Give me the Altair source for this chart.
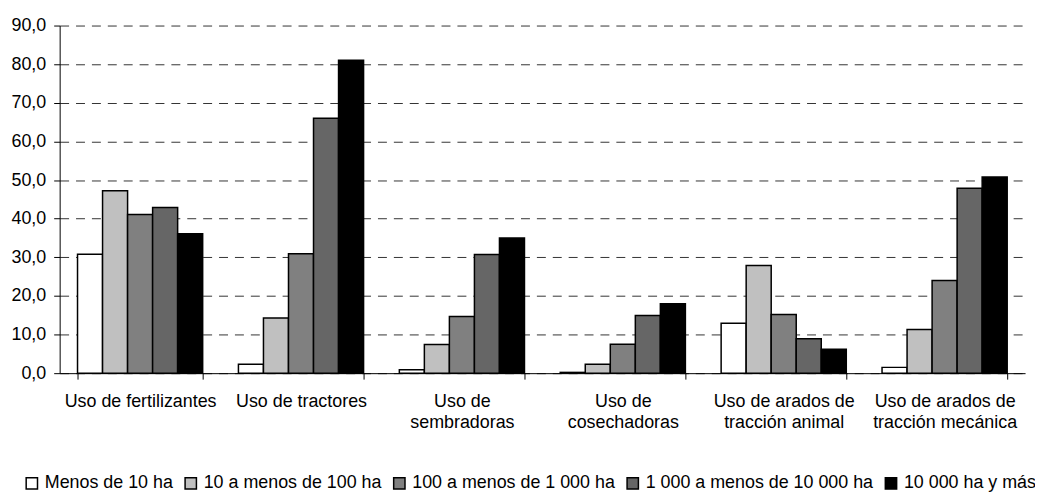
import altair as alt
import pandas as pd

categories = [
    "Uso de fertilizantes",
    "Uso de tractores",
    "Uso de\nsembradoras",
    "Uso de\ncosechadoras",
    "Uso de arados de\ntracción animal",
    "Uso de arados de\ntracción mecánica",
]
series = [
    "Menos de 10 ha",
    "10 a menos de 100 ha",
    "100 a menos de 1 000 ha",
    "1 000 a menos de 10 000 ha",
    "10 000 ha y más",
]
v_menos10 = [30.8, 2.3, 0.9, 0.2, 12.9, 1.5]
v_10_100 = [47.2, 14.3, 7.4, 2.3, 27.9, 11.3]
v_100_1000 = [41.1, 30.9, 14.7, 7.5, 15.2, 24.0]
v_1000_10000 = [42.9, 66.0, 30.7, 14.9, 8.9, 47.9]
v_10000 = [36.1, 81.0, 35.0, 18.0, 6.2, 50.8]
colors = ["#ffffff", "#c0c0c0", "#808080", "#666666", "#000000"]

all_values = [v_menos10, v_10_100, v_100_1000, v_1000_10000, v_10000]
rows = []
for s, vals in zip(series, all_values):
    for c, v in zip(categories, vals):
        rows.append({"categoria": c, "serie": s, "valor": v})
df = pd.DataFrame(rows)

FONT = "Liberation Sans"

chart = alt.Chart(df).mark_bar(stroke="black", strokeWidth=1.5).encode(
    x=alt.X(
        "categoria:N",
        sort=categories,
        scale=alt.Scale(paddingInner=0.2222, paddingOuter=0.1111),
        axis=alt.Axis(
            title=None,
            labelAngle=0,
            labelExpr="split(datum.label, '\\n')",
            labelLineHeight=21,
            labelFont=FONT,
            labelFontSize=18,
            labelColor="black",
            labelPadding=14,
            tickBand="extent",
            tickSize=6,
            tickColor="black",
            domainColor="black",
            grid=False,
        ),
    ),
    xOffset=alt.XOffset("serie:N", sort=series, scale=alt.Scale(paddingInner=0, paddingOuter=0)),
    y=alt.Y(
        "valor:Q",
        scale=alt.Scale(domain=[0, 90], nice=False),
        axis=alt.Axis(
            title=None,
            values=list(range(0, 91, 10)),
            labelExpr="replace(format(datum.value, '.1f'), '.', ',')",
            labelFont=FONT,
            labelFontSize=18,
            labelColor="black",
            labelPadding=8,
            tickSize=6,
            tickColor="black",
            domainColor="black",
            grid=True,
            gridColor="#333333",
            gridDash=[9, 7],
            gridWidth=1,
        ),
    ),
    fill=alt.Fill(
        "serie:N",
        sort=series,
        scale=alt.Scale(domain=series, range=colors),
        legend=alt.Legend(
            title=None,
            orient="none",
            direction="horizontal",
            legendX=-37,
            legendY=452,
            symbolType="square",
            symbolSize=130,
            symbolStrokeColor="black",
            symbolStrokeWidth=1.5,
            labelFont=FONT,
            labelFontSize=18,
            labelColor="black",
            labelOffset=4,
            columnPadding=8,
            labelLimit=400,
        ),
    ),
).properties(
    width=972,
    height=350,
    autosize=alt.AutoSizeParams(type="none"),
    padding={"left": 52, "top": 16, "right": 10, "bottom": 120},
).configure_view(stroke=None)

chart.save("out.html", embed_options={"renderer": "svg", "actions": False})
